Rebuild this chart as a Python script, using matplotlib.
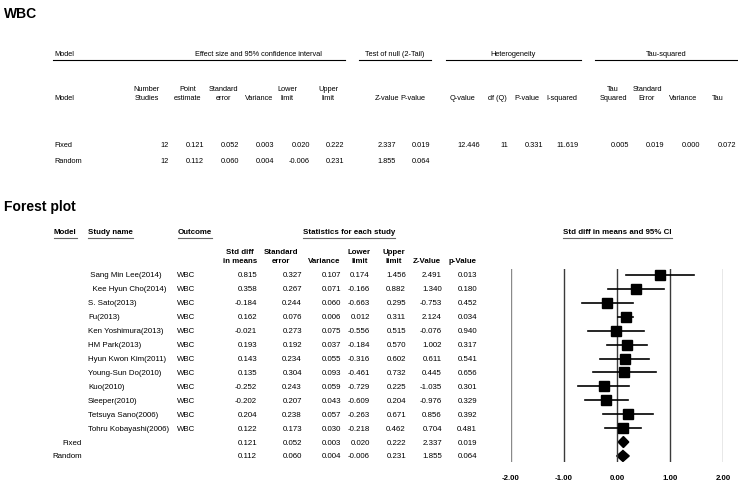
import matplotlib
matplotlib.use('Agg')
import matplotlib.pyplot as plt
from matplotlib.patches import Polygon
from matplotlib import font_manager

# study level data (forest plot table)
studies = [' Sang Min Lee(2014)', '  Kee Hyun Cho(2014)', 'S. Sato(2013)', 'Fu(2013)',
           'Ken Yoshimura(2013)', 'HM Park(2013)', 'Hyun Kwon Kim(2011)', 'Young-Sun Do(2010)',
           'Kuo(2010)', 'Sleeper(2010)', 'Tetsuya Sano(2006)', 'Tohru Kobayashi(2006)']
outcome = 'WBC'
smd = [0.815, 0.358, -0.184, 0.162, -0.021, 0.193, 0.143, 0.135, -0.252, -0.202, 0.204, 0.122]
se = [0.327, 0.267, 0.244, 0.076, 0.273, 0.192, 0.234, 0.304, 0.243, 0.207, 0.238, 0.173]
var = [0.107, 0.071, 0.060, 0.006, 0.075, 0.037, 0.055, 0.093, 0.059, 0.043, 0.057, 0.030]
lower = [0.174, -0.166, -0.663, 0.012, -0.556, -0.184, -0.316, -0.461, -0.729, -0.609, -0.263, -0.218]
upper = [1.456, 0.882, 0.295, 0.311, 0.515, 0.570, 0.602, 0.732, 0.225, 0.204, 0.671, 0.462]
zval = [2.491, 1.340, -0.753, 2.124, -0.076, 1.002, 0.611, 0.445, -1.035, -0.976, 0.856, 0.704]
pval = [0.013, 0.180, 0.452, 0.034, 0.940, 0.317, 0.541, 0.656, 0.301, 0.329, 0.392, 0.481]

# summary rows
models = ['Fixed', 'Random']
n_studies = [12, 12]
sum_est = [0.121, 0.112]
sum_se = [0.052, 0.060]
sum_var = [0.003, 0.004]
sum_lower = [0.020, -0.006]
sum_upper = [0.222, 0.231]
sum_z = [2.337, 1.855]
sum_p = [0.019, 0.064]

# heterogeneity / tau (fixed row only)
q_value = 12.446
df_q = 11
het_p = 0.331
i_squared = 11.619
tau_sq = 0.005
tau_se = 0.019
tau_var = 0.000
tau = 0.072

xticks = [-2, -1, 0, 1, 2]
xticklabels = ['-2.00', '-1.00', '0.00', '1.00', '2.00']

arial = ['Liberation Sans', 'DejaVu Sans']
# the summary table uses a narrow face; fall back to a small regular one
installed = set(f.name for f in font_manager.fontManager.ttflist)
if 'Liberation Sans Narrow' in installed:
    narrow = ['Liberation Sans Narrow', 'DejaVu Sans']
    fs_top = 6.2
else:
    narrow = arial
    fs_top = 5.3
fs = 5.7

fig = plt.figure(figsize=(7.38, 4.85), dpi=100)
ax0 = fig.add_axes([0, 0, 1, 1])
ax0.set_xlim(0, 738)
ax0.set_ylim(485, 0)
ax0.axis('off')

# ---------- top summary table ----------
ax0.text(4, 14, 'WBC', fontsize=10, fontweight='bold', family=arial, va='center')

ax0.text(54, 55, 'Model', fontsize=fs_top, family=narrow, va='center')
groups = [('Effect size and 95% confidence interval', 258, 53, 345),
          ('Test of null (2-Tail)', 395, 359, 431),
          ('Heterogeneity', 513, 446, 581),
          ('Tau-squared', 666, 595, 738)]
for g in groups:
    ax0.text(g[1], 55, g[0], fontsize=fs_top, family=narrow, ha='center', va='center')
    ax0.plot([g[2], g[3]], [61, 61], color='black', lw=0.8)

ax0.text(54, 98, 'Model', fontsize=fs_top, family=narrow, va='center')
top_heads = ['Number\nStudies', 'Point\nestimate', 'Standard\nerror', 'Variance', 'Lower\nlimit',
             'Upper\nlimit', 'Z-value', 'P-value', 'Q-value', 'df (Q)', 'P-value', 'I-squared',
             'Tau\nSquared', 'Standard\nError', 'Variance', 'Tau']
top_head_x = [147, 188, 223, 259, 287, 328, 387, 413, 463, 497, 527, 562, 613, 647, 683, 718]
for h, x in zip(top_heads, top_head_x):
    ax0.text(x, 102, h, fontsize=fs_top, family=narrow, ha='center', va='bottom',
             multialignment='center', linespacing=1.4)

top_val_x = [169, 204, 239, 274, 310, 344, 396, 430, 480, 508, 543, 579, 629, 664, 700, 736]
top_y = [146, 162]
for k in range(2):
    ax0.text(54, top_y[k], models[k], fontsize=fs_top, family=narrow, va='center')
    vals = ['%d' % n_studies[k], '%.3f' % sum_est[k], '%.3f' % sum_se[k], '%.3f' % sum_var[k],
            '%.3f' % sum_lower[k], '%.3f' % sum_upper[k], '%.3f' % sum_z[k], '%.3f' % sum_p[k]]
    if k == 0:
        vals += ['%.3f' % q_value, '%d' % df_q, '%.3f' % het_p, '%.3f' % i_squared,
                 '%.3f' % tau_sq, '%.3f' % tau_se, '%.3f' % tau_var, '%.3f' % tau]
    for v, x in zip(vals, top_val_x):
        ax0.text(x, top_y[k], v, fontsize=fs_top, family=narrow, ha='right', va='center')

# ---------- forest plot table ----------
ax0.text(4, 207, 'Forest plot', fontsize=10, fontweight='bold', family=arial, va='center')

under = [('Model', 54), ('Study name', 88), ('Outcome', 178),
         ('Statistics for each study', 303), ('Std diff in means and 95% CI', 563)]
under_txt = []
for u in under:
    t = ax0.text(u[1], 233, u[0], fontsize=fs, fontweight='bold', family=arial, va='center')
    under_txt.append(t)

heads = ['Std diff\nin means', 'Standard\nerror', 'Variance', 'Lower\nlimit', 'Upper\nlimit',
         'Z-Value', 'p-Value']
head_x = [257, 298, 340, 371, 405, 441, 477]
for h, x in zip(heads, head_x):
    ax0.text(x, 265, h, fontsize=fs, fontweight='bold', family=arial, ha='right', va='bottom',
             multialignment='center', linespacing=1.35)

row_y0 = 276
row_h = 13.92
col_x = [257, 302, 341, 370, 406, 442, 477]
for i in range(len(studies)):
    y = row_y0 + i * row_h
    ax0.text(88, y, studies[i], fontsize=fs, family=arial, va='center')
    ax0.text(177, y, outcome, fontsize=fs, family=arial, va='center')
    vals = [smd[i], se[i], var[i], lower[i], upper[i], zval[i], pval[i]]
    for v, x in zip(vals, col_x):
        ax0.text(x, y, '%.3f' % v, fontsize=fs, family=arial, ha='right', va='center')
for k in range(2):
    y = row_y0 + (len(studies) + k) * row_h
    ax0.text(82, y, models[k], fontsize=fs, family=arial, ha='right', va='center')
    vals = [sum_est[k], sum_se[k], sum_var[k], sum_lower[k], sum_upper[k], sum_z[k], sum_p[k]]
    for v, x in zip(vals, col_x):
        ax0.text(x, y, '%.3f' % v, fontsize=fs, family=arial, ha='right', va='center')

# underline the bold headers
fig.canvas.draw()
renderer = fig.canvas.get_renderer()
inv = ax0.transData.inverted()
for t in under_txt:
    bb = t.get_window_extent(renderer)
    x0 = inv.transform((bb.x0, bb.y0))[0]
    x1 = inv.transform((bb.x1, bb.y0))[0]
    ax0.plot([x0, x1], [238.5, 238.5], color='#666666', lw=0.8)

# ---------- forest plot ----------
px_left, px_right, px_top, px_bot = 511, 723, 270, 463
ax = fig.add_axes([px_left / 738, 1 - px_bot / 485, (px_right - px_left) / 738, (px_bot - px_top) / 485])
ax.set_xlim(-2, 2)
ax.set_ylim(px_bot, px_top)
ax.patch.set_alpha(0)
for s in ax.spines.values():
    s.set_visible(False)
for x in xticks:
    c = '#8a8a8a' if abs(x) == 2 else '#3a3a3a'
    ax.axvline(x, color=c, lw=1)

for i in range(len(studies)):
    y = row_y0 + i * row_h
    ax.plot([lower[i], upper[i]], [y, y], color='black', lw=1.2)
    ax.plot(smd[i], y, marker='s', color='black', markersize=7.3)
for k in range(2):
    y = row_y0 + (len(studies) + k) * row_h
    d = Polygon([(sum_lower[k], y), (sum_est[k], y - 5.5), (sum_upper[k], y), (sum_est[k], y + 5.5)],
                closed=True, color='black')
    ax.add_patch(d)

ax.set_yticks([])
ax.set_xticks(xticks)
ax.set_xticklabels(xticklabels, fontsize=fs, fontweight='bold', family=arial)
ax.tick_params(axis='x', length=0, pad=9)

plt.savefig('out.png', dpi=100)
